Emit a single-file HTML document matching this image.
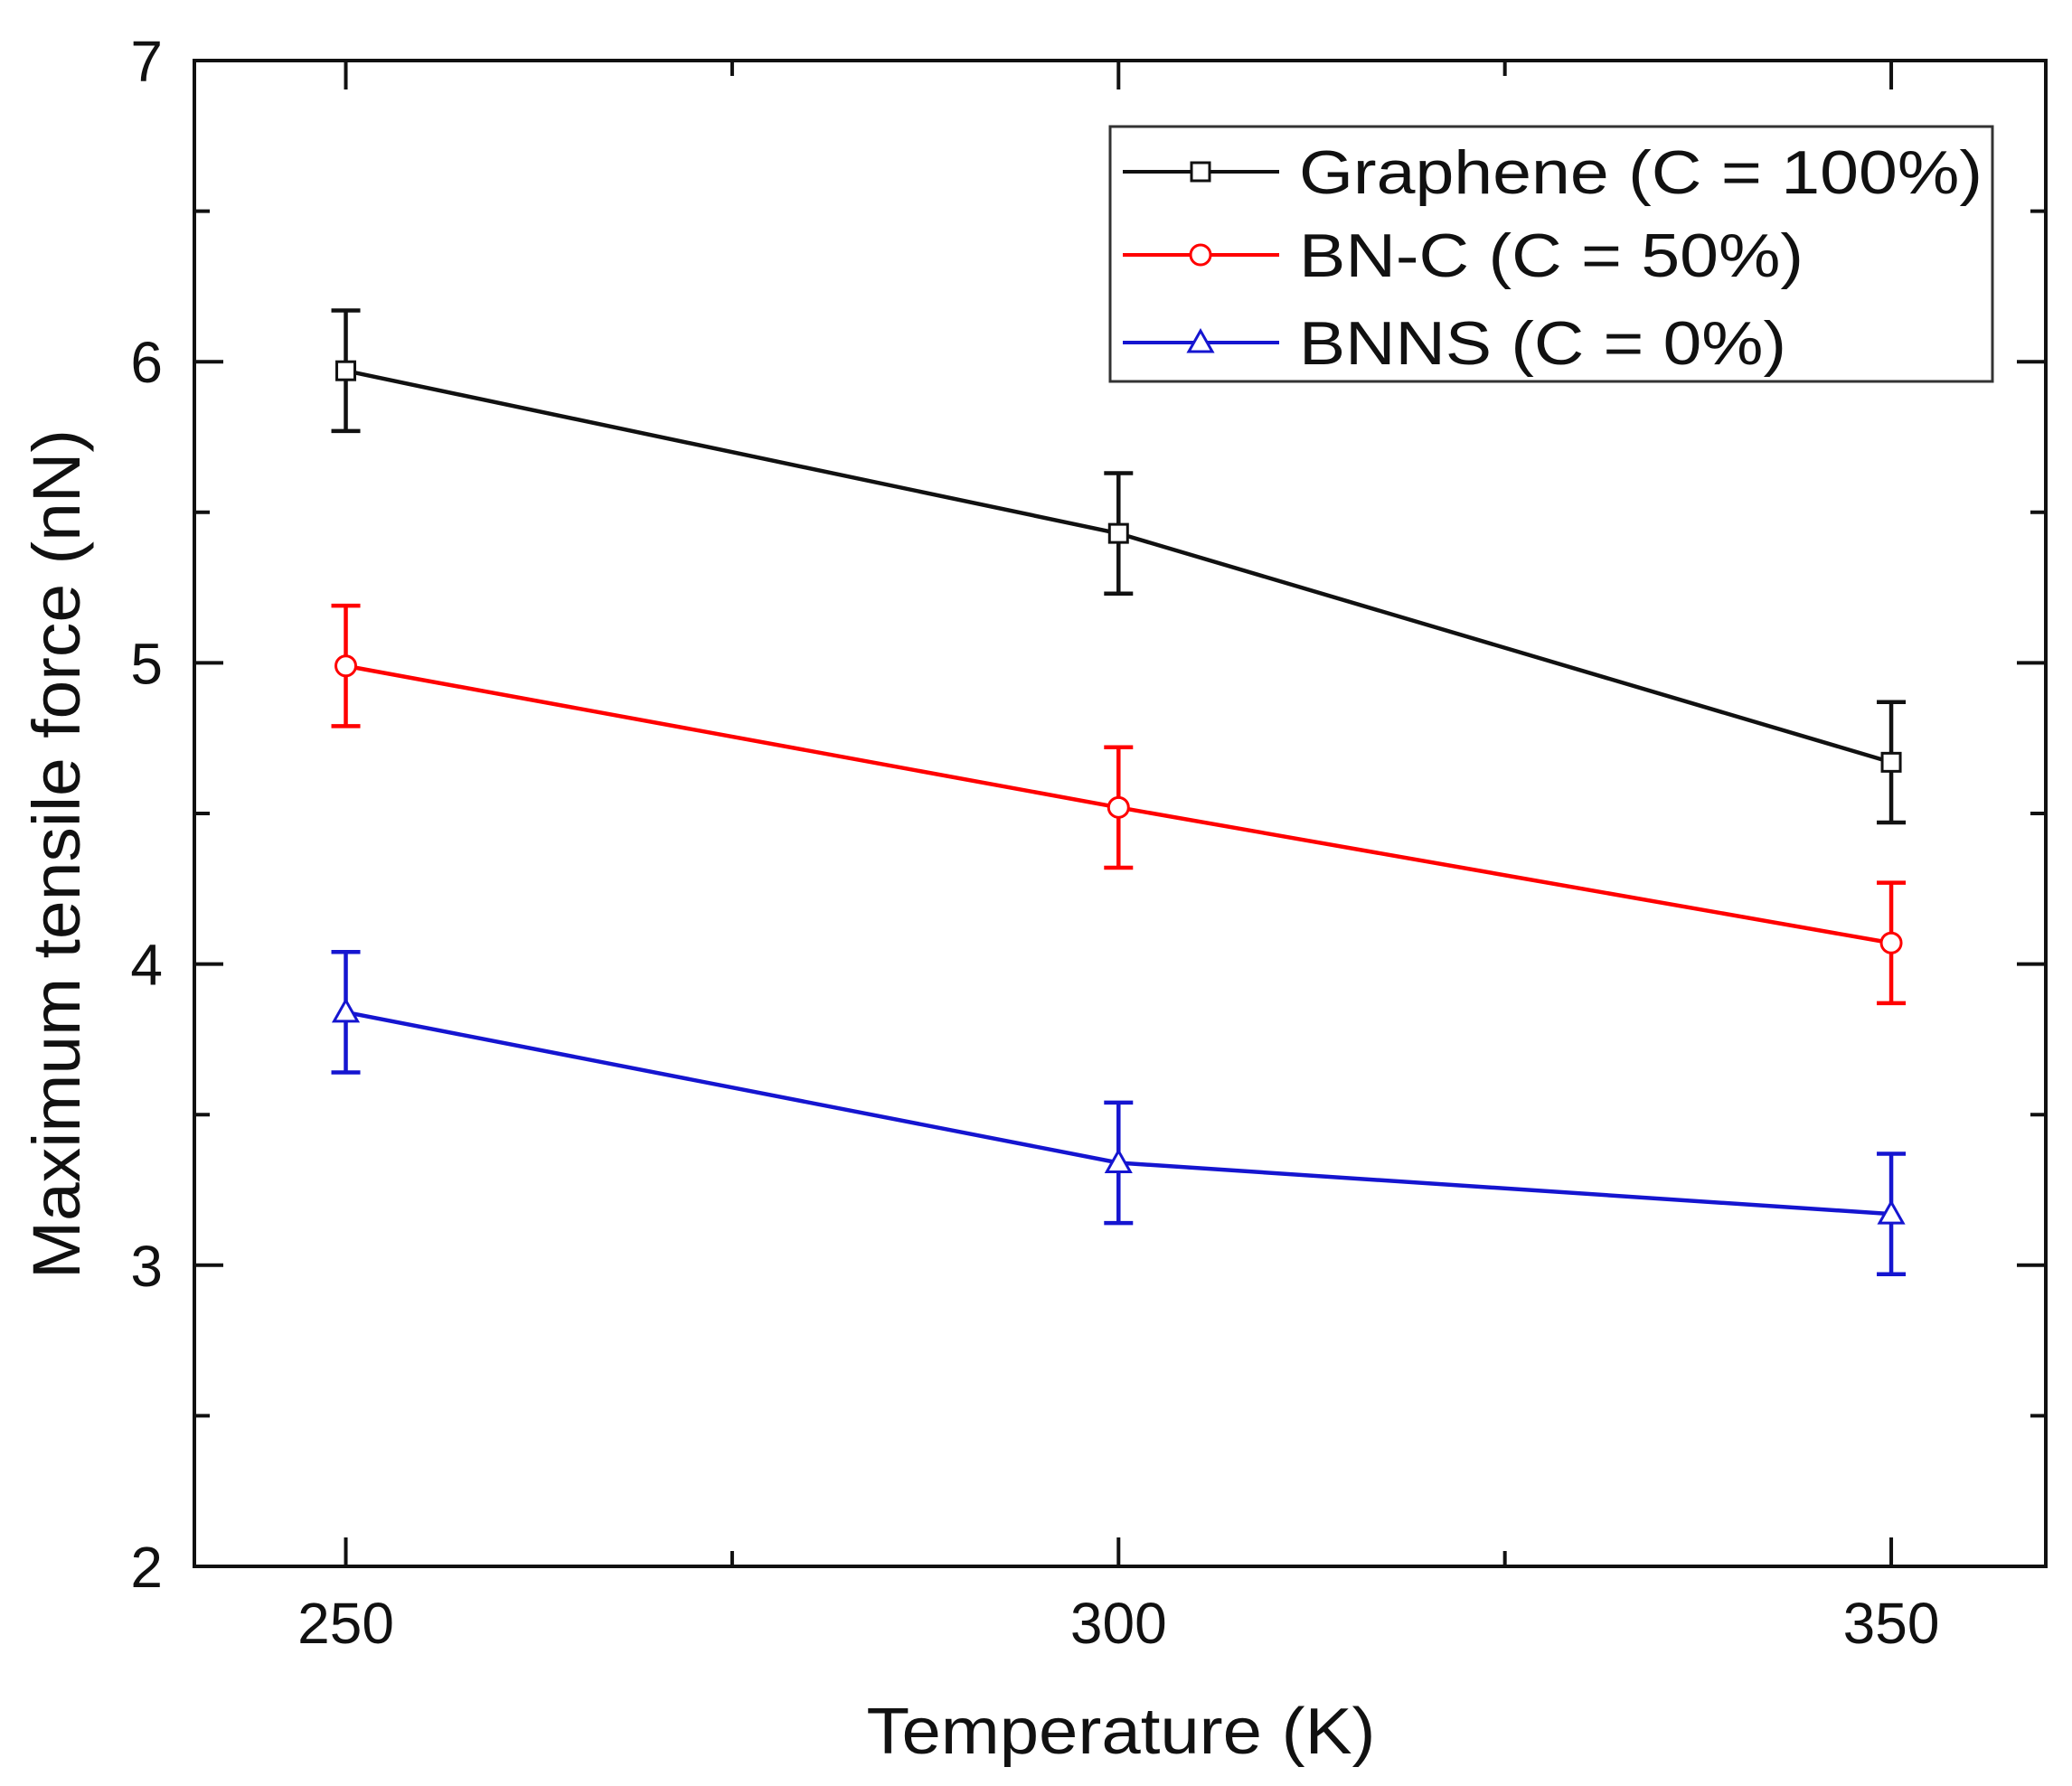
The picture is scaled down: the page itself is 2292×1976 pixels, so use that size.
<!DOCTYPE html>
<html><head><meta charset="utf-8"><style>
html,body{margin:0;padding:0;background:#fff}
svg{display:block}
text{font-family:"Liberation Sans",Arial,sans-serif}
</style></head><body>
<svg id="chart" width="2292" height="1976" viewBox="0 0 2292 1976" xmlns="http://www.w3.org/2000/svg">
<g id="axes"></g>
<g id="series"></g>
<g id="legend">
<rect x="1228" y="140" width="976" height="282" fill="#fff" stroke="#333" stroke-width="3"/>
</g>
<text x="1240" y="1940" font-size="72" text-anchor="middle" textLength="563" lengthAdjust="spacingAndGlyphs" fill="#111">Temperature (K)</text>
<text transform="translate(88,945) rotate(-90)" font-size="74" text-anchor="middle" textLength="940" lengthAdjust="spacingAndGlyphs" fill="#111">Maximum tensile force (nN)</text>
</svg>
<script>
const categories = [250, 300, 350];
const grapheneValues = [5.97, 5.43, 4.67];
const bncValues = [4.99, 4.52, 4.07];
const bnnsValues = [3.84, 3.34, 3.17];
const grapheneErr = [0.2, 0.2, 0.2];
const bncErr = [0.2, 0.2, 0.2];
const bnnsErr = [0.2, 0.2, 0.2];
const yTicks = [2, 3, 4, 5, 6, 7];
const xTicks = [250, 300, 350];
const seriesNames = ["Graphene (C = 100%)", "BN-C (C = 50%)", "BNNS (C = 0%)"];
const legendTextLengths = [756, 558, 539];

const NS = "http://www.w3.org/2000/svg";
const L = 215, R = 2263, T = 67, B = 1733;
const xMin = 240.2, xMax = 360, yMin = 2, yMax = 7;
const xs = v => L + (v - xMin) / (xMax - xMin) * (R - L);
const ys = v => B - (v - yMin) / (yMax - yMin) * (B - T);
function mk(tag, attrs, parent) {
  const e = document.createElementNS(NS, tag);
  for (const k in attrs) e.setAttribute(k, attrs[k]);
  parent.appendChild(e);
  return e;
}
const axes = document.getElementById('axes');
const frame = mk('rect', {x: L, y: T, width: R - L, height: B - T, fill: 'none', stroke: '#111', 'stroke-width': 4}, axes);


for (let v = 2; v <= 7.001; v += 0.5) {
  const major = Math.abs(v - Math.round(v)) < 1e-6;
  const len = major ? 32 : 17;
  const y = ys(v);
  const t1 = mk('line', {x1: L, x2: L + len, y1: y, y2: y, stroke: '#111', 'stroke-width': 4}, axes);
  
  
  const t2 = mk('line', {x1: R, x2: R - len, y1: y, y2: y, stroke: '#111', 'stroke-width': 4}, axes);
  
  
}
yTicks.forEach(v => {
  const t = mk('text', {x: 180, y: ys(v) + 23, 'font-size': 64, 'text-anchor': 'end', fill: '#111'}, axes);
  t.textContent = v;
  
  
});
for (let v = 250; v <= 350; v += 25) {
  const major = v % 50 === 0;
  const len = major ? 32 : 17;
  const x = xs(v);
  const t1 = mk('line', {x1: x, x2: x, y1: B, y2: B - len, stroke: '#111', 'stroke-width': 4}, axes);
  
  
  const t2 = mk('line', {x1: x, x2: x, y1: T, y2: T + len, stroke: '#111', 'stroke-width': 4}, axes);
  
  
}
xTicks.forEach(v => {
  const t = mk('text', {x: xs(v), y: 1818, 'font-size': 64, 'text-anchor': 'middle', fill: '#111'}, axes);
  t.textContent = v;
  
  
});
function marker(shape, cx, cy, color, parent) {
  let m;
  if (shape === 'square') m = mk('rect', {x: cx - 10, y: cy - 10, width: 20, height: 20, fill: '#fff', stroke: color, 'stroke-width': 3}, parent);
  else if (shape === 'circle') m = mk('circle', {cx: cx, cy: cy, r: 11, fill: '#fff', stroke: color, 'stroke-width': 3}, parent);
  else m = mk('polygon', {points: `${cx},${cy - 13} ${cx - 13},${cy + 10} ${cx + 13},${cy + 10}`, fill: '#fff', stroke: color, 'stroke-width': 3}, parent);
  return m;
}
const series = document.getElementById('series');
const defs = [
  {vals: grapheneValues, err: grapheneErr, color: '#111', shape: 'square', key: 'graphene'},
  {vals: bncValues, err: bncErr, color: '#f00', shape: 'circle', key: 'bn-c'},
  {vals: bnnsValues, err: bnnsErr, color: '#1515d0', shape: 'triangle', key: 'bnns'}
];
defs.forEach((s, si) => {
  const g = mk('g', {}, series);
  
  
  const pts = categories.map((c, i) => xs(c) + ',' + ys(s.vals[i])).join(' ');
  const pl = mk('polyline', {points: pts, fill: 'none', stroke: s.color, 'stroke-width': 4.5}, g);
  
  
  categories.forEach((c, i) => {
    const x = xs(c), yt = ys(s.vals[i] + s.err[i]), yb = ys(s.vals[i] - s.err[i]);
    const eb = mk('path', {d: `M${x},${yt}V${yb}M${x - 16},${yt}H${x + 16}M${x - 16},${yb}H${x + 16}`, stroke: s.color, 'stroke-width': 4.5, fill: 'none'}, g);
    
    
    const m = marker(s.shape, x, ys(s.vals[i]), s.color, g);
    
    
  });
  const lg = document.getElementById('legend');
  const ry = [190, 282, 379][si];
  const ll = mk('line', {x1: 1242, x2: 1415, y1: ry, y2: ry, stroke: s.color, 'stroke-width': 4}, lg);
  
  
  const lm = marker(s.shape, 1328, ry, s.color, lg);
  
  
  const lt = mk('text', {x: 1437, y: ry + 24, 'font-size': 68, fill: '#111', textLength: legendTextLengths[si], lengthAdjust: 'spacingAndGlyphs'}, lg);
  lt.textContent = seriesNames[si];
  
  
});
</script>
</body></html>
